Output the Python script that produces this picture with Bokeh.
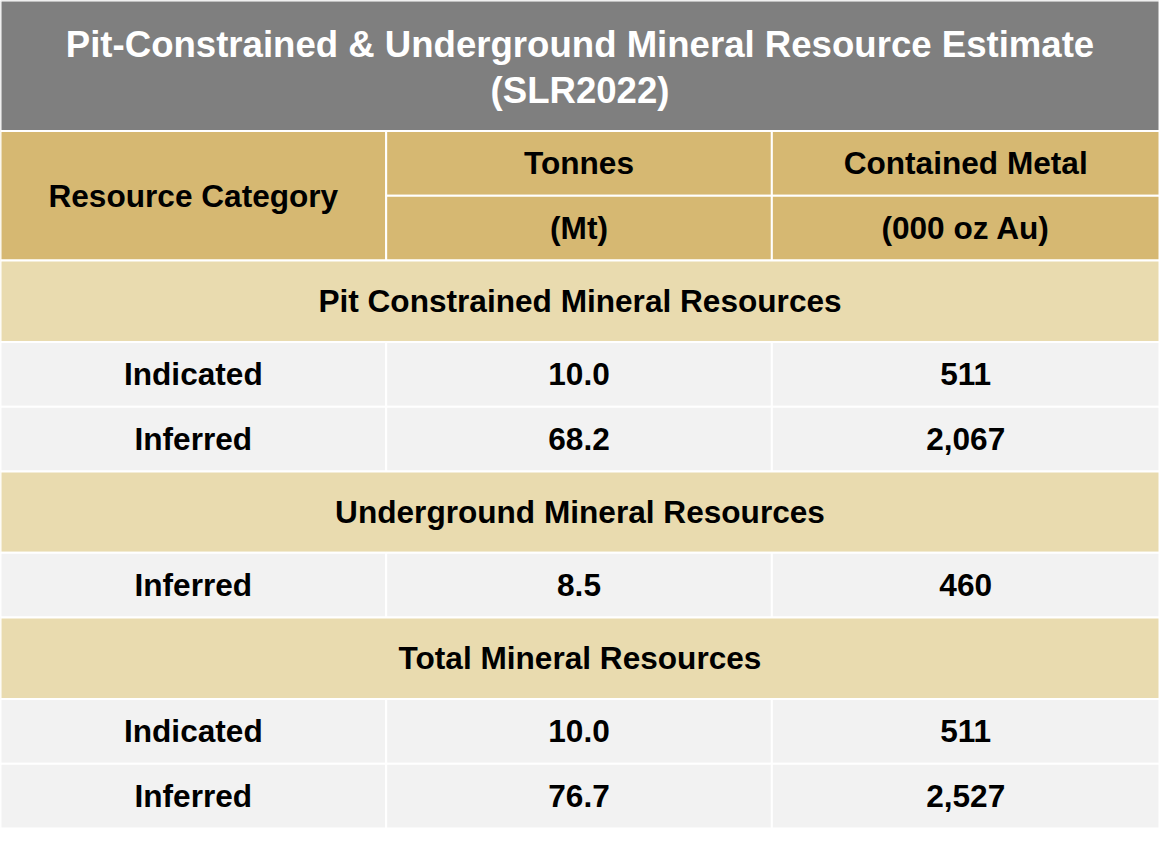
from bokeh.plotting import figure
from bokeh.models import Range1d, ColumnDataSource
from bokeh.core.properties import value
from bokeh.embed import file_html
from bokeh.resources import INLINE

# ---- data ----
title_lines = ["Pit-Constrained & Underground Mineral Resource Estimate", "(SLR2022)"]
header_col1 = "Resource Category"
header_col2 = ["Tonnes", "(Mt)"]
header_col3 = ["Contained Metal", "(000 oz Au)"]
sections = ["Pit Constrained Mineral Resources", "Underground Mineral Resources", "Total Mineral Resources"]
section_rows = [["Indicated", "Inferred"], ["Inferred"], ["Indicated", "Inferred"]]
tonnes_mt = [[10.0, 68.2], [8.5], [10.0, 76.7]]
metal_koz = [[511, 2067], [460], [511, 2527]]

# ---- layout (reference pixel units) ----
W, H = 1175, 846
col_edges = [0, 391, 782, 1175]
title_h = 133
header_h = 132
section_h = 83
row_h = 66
FONT = "Liberation Sans"
TITLE_C = "#7F7F7F"
HEAD_C = "#D6B872"
SEC_C = "#E9DBAF"
ROW_C = "#F2F2F2"

p = figure(width=1159, height=830, output_backend="svg", toolbar_location=None,
           x_range=Range1d(0, W), y_range=Range1d(H, 0), min_border=0)
p.axis.visible = False
p.grid.visible = False
p.outline_line_color = None
p.background_fill_color = "white"
p.border_fill_color = "white"

quads = dict(left=[], right=[], top=[], bottom=[], color=[])
texts = dict(x=[], y=[], text=[], color=[], size=[])

def add_quad(l, r, t, b, c):
    quads["left"].append(l); quads["right"].append(r)
    quads["top"].append(t); quads["bottom"].append(b); quads["color"].append(c)

def add_text(x, y, s, c="black", size="31.6px"):
    texts["x"].append(x); texts["y"].append(y); texts["text"].append(s)
    texts["color"].append(c); texts["size"].append(size)

# title
y = 0
add_quad(0, W, y, y + title_h, TITLE_C)
add_text(W / 2, 45, title_lines[0], "white", "36.6px")
add_text(W / 2, 92, title_lines[1], "white", "36.6px")
y += title_h

# header
add_quad(col_edges[0], col_edges[1], y, y + header_h, HEAD_C)
add_text((col_edges[0] + col_edges[1]) / 2, y + header_h / 2, header_col1)
for ci, lines in ((1, header_col2), (2, header_col3)):
    half = header_h / 2
    for k in range(2):
        add_quad(col_edges[ci], col_edges[ci + 1], y + k * half, y + (k + 1) * half, HEAD_C)
        add_text((col_edges[ci] + col_edges[ci + 1]) / 2, y + k * half + half / 2, lines[k])
y += header_h

for si, sec in enumerate(sections):
    add_quad(0, W, y, y + section_h, SEC_C)
    add_text(W / 2, y + section_h / 2, sec)
    y += section_h
    for ri, cat in enumerate(section_rows[si]):
        vals = [cat, f"{tonnes_mt[si][ri]:.1f}", f"{metal_koz[si][ri]:,}"]
        for ci in range(3):
            add_quad(col_edges[ci], col_edges[ci + 1], y, y + row_h, ROW_C)
            add_text((col_edges[ci] + col_edges[ci + 1]) / 2, y + row_h / 2, vals[ci])
        y += row_h

p.quad(left="left", right="right", top="top", bottom="bottom", fill_color="color",
       line_color="white", line_width=2, source=ColumnDataSource(quads))
p.text(x="x", y="y", text="text", text_color="color", text_font_size="size",
       text_font=value(FONT), text_font_style="bold", text_align="center",
       text_baseline="middle", source=ColumnDataSource(texts))

open("out.html", "w").write(file_html(p, INLINE))
